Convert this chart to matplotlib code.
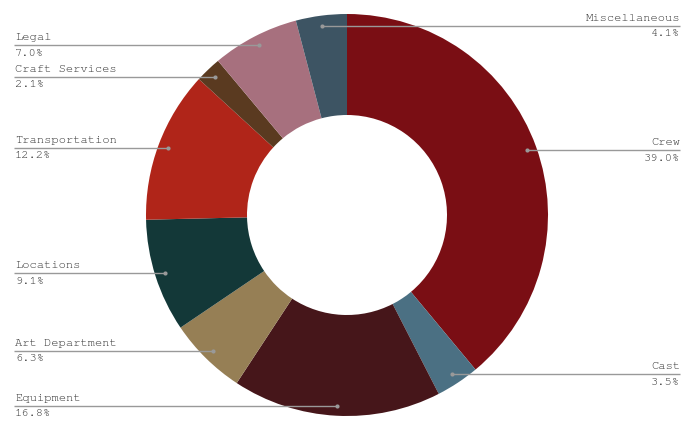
import numpy as np
import matplotlib.pyplot as plt

categories = ['Crew', 'Cast', 'Equipment', 'Art Department', 'Locations',
              'Transportation', 'Craft Services', 'Legal', 'Miscellaneous']
shares = [39.0, 3.5, 16.8, 6.3, 9.1, 12.2, 2.1, 7.0, 4.1]
colors = ['#7a0e14', '#4b7083', '#46161a', '#967f55', '#133838',
          '#b02519', '#5a3a20', '#a7707e', '#3d5463']

W, H = 695, 430
cx, cy = 347, 215
R, inner = 201, 100
text_color = '#333333'
line_color = '#999999'
mono = ['Courier New', 'Nimbus Mono PS', 'FreeMono', 'Liberation Mono']

fig = plt.figure(figsize=(W / 100, H / 100), dpi=100, facecolor='white')
ax = fig.add_axes([0, 0, 1, 1])

wedges, _ = ax.pie(shares, colors=colors, startangle=90, counterclock=False,
                   center=(cx, cy), radius=R,
                   wedgeprops=dict(width=R - inner, edgecolor='none'))

# pie() resets the limits, so put the pixel frame back afterwards
ax.set_xlim(0, W)
ax.set_ylim(0, H)
ax.set_aspect('equal')
ax.axis('off')

for w, name, val in zip(wedges, categories, shares):
    mid = (w.theta1 + w.theta2) / 2
    px = cx + 0.95 * R * np.cos(np.deg2rad(mid))
    py = cy + 0.95 * R * np.sin(np.deg2rad(mid))
    # clockwise angle from 12 o'clock; the slice just left of the top
    # still goes to the right column
    cw = (90 - mid) % 360
    if cw < 180 or cw > 345:
        x0, x1, tx, ha = px, 680, 680, 'right'
    else:
        x0, x1, tx, ha = 14, px, 15, 'left'
    ax.plot([x0, x1], [py, py], color=line_color, lw=1, solid_capstyle='butt')
    ax.plot(px, py, 'o', color=line_color, ms=3, mec='none')
    ax.text(tx, py + 5, name, ha=ha, va='baseline', color=text_color,
            family=mono, fontsize=8.7)
    ax.text(tx, py - 3.5, f'{val:.1f}%', ha=ha, va='top', color=text_color,
            family=mono, fontsize=8.7)

fig.savefig('out.png', dpi=100, facecolor='white')
